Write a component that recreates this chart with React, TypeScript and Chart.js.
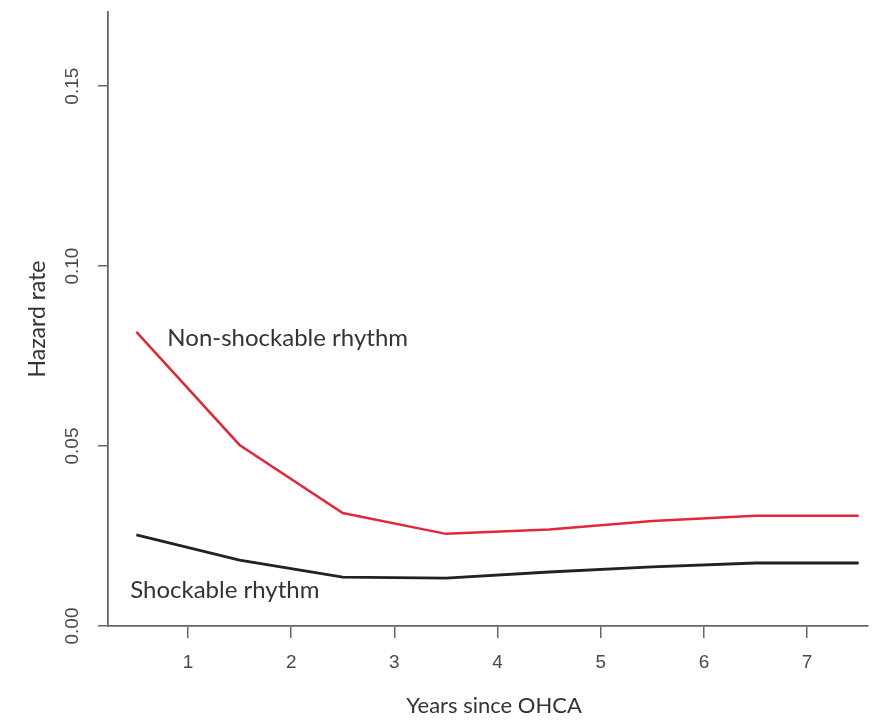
import React, { useEffect, useRef } from "react";
import { Chart, registerables } from "chart.js";

Chart.register(...registerables);

const years = [0.5, 1.5, 2.5, 3.5, 4.5, 5.5, 6.5, 7.5];
const nonShockable = [0.0817, 0.0503, 0.0314, 0.0256, 0.0268, 0.0292, 0.0306, 0.0306];
const shockable = [0.0253, 0.0183, 0.0136, 0.0133, 0.015, 0.0164, 0.0175, 0.0175];
const xTicks = [1, 2, 3, 4, 5, 6, 7];
const yTicks = [0, 0.05, 0.1, 0.15];
const yTickLabels = ["0.00", "0.05", "0.10", "0.15"];
const labelNon = { text: "Non-shockable rhythm", x: 0.8, y: 0.08 };
const labelShock = { text: "Shockable rhythm", x: 0.44, y: 0.01 };

const TEXT_FONT = "Lato, 'Open Sans', sans-serif";
const TICK_FONT = "'Liberation Sans', Arial, sans-serif";

const annotate = {
  id: "annotate",
  afterDraw(chart: any) {
    const ctx = chart.ctx;
    const xs = chart.scales.x;
    const ys = chart.scales.y;
    ctx.save();
    // y tick labels (rotated, R style)
    ctx.fillStyle = "#4a4a4a";
    ctx.font = "19px " + TICK_FONT;
    ctx.textAlign = "center";
    ctx.textBaseline = "middle";
    ys.ticks.forEach((t: any, i: number) => {
      const py = ys.getPixelForValue(t.value);
      ctx.save();
      ctx.translate(xs.left - 35, py);
      ctx.rotate(-Math.PI / 2);
      ctx.fillText(yTickLabels[i], 0, 0);
      ctx.restore();
    });
    // annotations
    ctx.fillStyle = "#333333";
    ctx.font = "24px " + TEXT_FONT;
    ctx.textAlign = "left";
    [labelNon, labelShock].forEach((l) => {
      ctx.fillText(l.text, xs.getPixelForValue(l.x), ys.getPixelForValue(l.y));
    });
    // x axis title
    ctx.font = "22px " + TEXT_FONT;
    ctx.textAlign = "center";
    ctx.fillText("Years since OHCA", (xs.left + xs.right) / 2 + 6, 706);
    ctx.restore();
  },
};

export default function App() {
  const ref = useRef<HTMLCanvasElement>(null);
  useEffect(() => {
    if (!ref.current) return;
    const chart = new Chart(ref.current, {
      type: "line",
      data: {
        datasets: [
          {
            label: "Non-shockable rhythm",
            data: years.map((x, i) => ({ x, y: nonShockable[i] })),
            borderColor: "#e0283a",
            borderWidth: 2.5,
            pointRadius: 0,
            tension: 0,
            fill: false,
          },
          {
            label: "Shockable rhythm",
            data: years.map((x, i) => ({ x, y: shockable[i] })),
            borderColor: "#222222",
            borderWidth: 2.8,
            pointRadius: 0,
            tension: 0,
            fill: false,
          },
        ],
      },
      options: {
        animation: false,
        responsive: false,
        devicePixelRatio: 1,
        layout: { padding: { left: 0, right: 11, top: 12, bottom: 0 } },
        plugins: { legend: { display: false }, tooltip: { enabled: false } },
        scales: {
          x: {
            type: "linear",
            min: 0.225,
            max: 7.59,
            afterBuildTicks: (s: any) => {
              s.ticks = xTicks.map((v) => ({ value: v }));
            },
            afterFit: (s: any) => {
              s.height = 102;
            },
            grid: {
              display: true,
              drawOnChartArea: false,
              drawTicks: true,
              tickLength: 12,
              color: "#666666",
              lineWidth: 1.5,
            },
            border: { display: true, color: "#666666", width: 1.8 },
            ticks: {
              color: "#4a4a4a",
              font: { family: TICK_FONT, size: 19 },
              padding: 13,
              maxRotation: 0,
              callback: (v: any) => String(v),
            },
            title: { display: false },
          },
          y: {
            type: "linear",
            min: 0,
            max: 0.1706,
            afterBuildTicks: (s: any) => {
              s.ticks = yTicks.map((v) => ({ value: v }));
            },
            afterFit: (s: any) => {
              s.width = 108;
            },
            grid: {
              display: true,
              drawOnChartArea: false,
              drawTicks: true,
              tickLength: 10,
              color: "#666666",
              lineWidth: 1.5,
            },
            border: { display: true, color: "#666666", width: 1.8 },
            ticks: { display: false },
            title: {
              display: true,
              text: "Hazard rate",
              color: "#333333",
              font: { family: TEXT_FONT, size: 23 },
              padding: { top: 24, bottom: 0 },
            },
          },
        },
      },
      plugins: [annotate],
    });
    return () => chart.destroy();
  }, []);
  return (
    <div style={{ position: "absolute", left: 0, top: 0, width: 879, height: 728, background: "#fff" }}>
      <canvas ref={ref} width={879} height={728} />
    </div>
  );
}
